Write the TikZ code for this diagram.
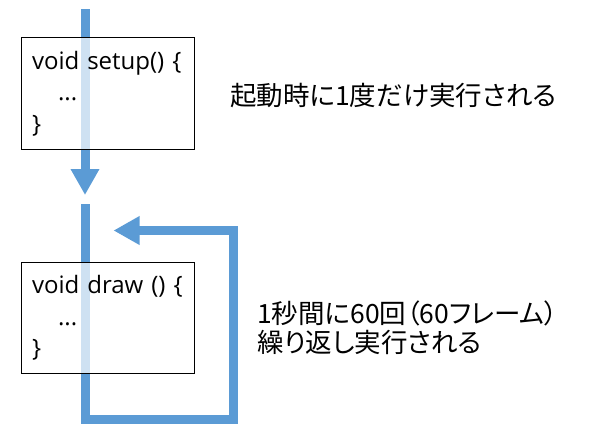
\documentclass[tikz,border=0pt]{standalone}
\usepackage{fontspec}
\setmainfont{Open Sans}
\newfontfamily\jpfont[RawFeature=+palt]{Noto Sans CJK JP}
\usetikzlibrary{arrows.meta}
\definecolor{flowblue}{RGB}{91,155,213}

\tikzset{
  flow/.style={line width=9pt, flowblue, line cap=butt, line join=miter,
    -{Triangle[length=26pt,width=27pt]}},
  codebox/.style={draw=black, line width=1pt, fill=white, fill opacity=0.7,
    text opacity=1, text width=151.5pt, inner xsep=11pt,
    minimum height=111.6pt, align=left,
    font=\fontsize{24}{31.5}\selectfont},
  note/.style={inner sep=0pt, anchor=west, align=left,
    font=\jpfont\fontsize{26.5}{28.5}\selectfont}
}

\begin{document}
\begin{tikzpicture}[x=1pt, y=-1pt]
\useasboundingbox (0,0) rectangle (607,447);

% flow line ends
\coordinate (top) at (85,9);
\coordinate (toptip) at (85,195);
\coordinate (loopstart) at (85,204);
\coordinate (loopcorner) at (233.5,419.5);
\coordinate (looptip) at (113.5,230.5);

% setup runs once
\draw[flow] (top) -- (toptip);

% draw loops
\draw[flow] (loopstart) |- (loopcorner) |- (looptip);

% code boxes (over the lines)
\node[codebox] (setupbox) at (107.75,93.5) {void setup() \{\\ \hspace*{26pt}...\\ \}};
\node[codebox] (drawbox) at (107.75,318) {void draw () \{\\ \hspace*{26pt}...\\ \}};

% notes
\node[note] (oncenote) at (230,96) {起動時に1度だけ実行される};
\node[note] (loopnote) at (257,328) {1秒間に60回（60フレーム）\\繰り返し実行される};

\end{tikzpicture}
\end{document}
